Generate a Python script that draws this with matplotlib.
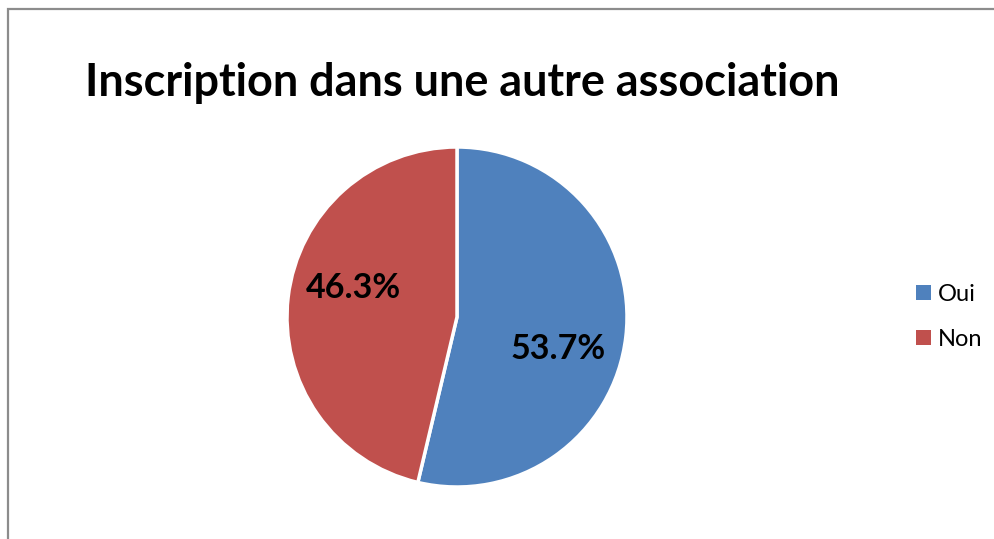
import matplotlib
matplotlib.use("Agg")
import matplotlib.pyplot as plt
import numpy as np
from matplotlib.patches import Rectangle, Patch

# data
labels = ["Oui", "Non"]
shares = [53.7, 46.3]
colors = ["#4F81BD", "#C0504D"]
title = "Inscription dans une autre association"

# label placement (fraction of radius, degrees) as Excel put them
label_radius = [0.623, 0.632]
label_angle = [-17.6, 164.6]

W, H = 994, 539
fig = plt.figure(figsize=(W / 100, H / 100), dpi=100)
plt.rcParams["font.family"] = ["Lato", "DejaVu Sans"]

# chart-area frame, cut by the right/bottom edge of the image
fig.patches.append(Rectangle((8 / W, -0.05), 1.1, (H - 9) / H + 0.05,
                             transform=fig.transFigure, fill=False,
                             edgecolor="#8c8c8c", linewidth=1.6))

cx, cy, r = 457, 317, 170
ax = fig.add_axes([(cx - r) / W, (H - cy - r) / H, 2 * r / W, 2 * r / H])
wedges, _ = ax.pie(shares, colors=colors, startangle=90, counterclock=False,
                   radius=1.0, wedgeprops=dict(edgecolor="white", linewidth=2.5))
ax.set_xlim(-1, 1)
ax.set_ylim(-1, 1)
ax.set_aspect("auto")
ax.axis("off")

for v, rr, a in zip(shares, label_radius, label_angle):
    t = np.deg2rad(a)
    ax.text(rr * np.cos(t), rr * np.sin(t), f"{v}%", ha="center", va="center",
            fontsize=24.5, fontweight="bold", color="black")

fig.text(85 / W, 1 - 83 / H, title, ha="left", va="center",
         fontsize=32.4, fontweight="bold", color="black")

handles = [Patch(facecolor=c, edgecolor="none") for c in colors]
fig.legend(handles, labels, loc="center left", bbox_to_anchor=(907 / W, 1 - 317 / H),
           frameon=False, fontsize=17, handlelength=0.6, handleheight=0.6,
           handletextpad=0.3, labelspacing=1.0, borderaxespad=0)

fig.savefig("out.png", dpi=100)
